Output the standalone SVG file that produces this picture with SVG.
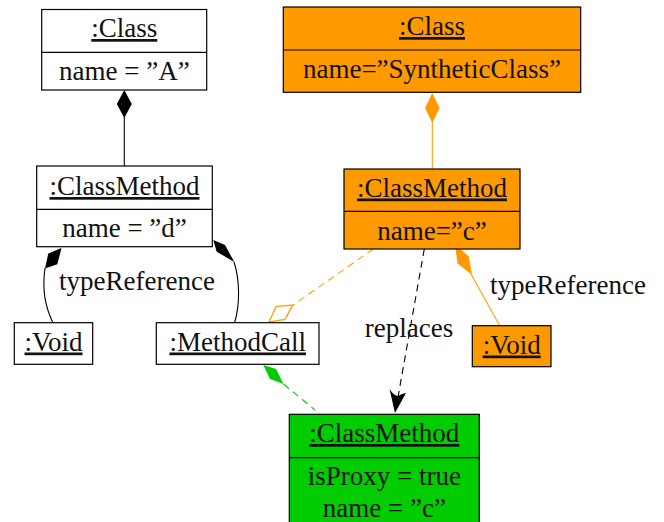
<svg xmlns="http://www.w3.org/2000/svg" width="664" height="522" viewBox="0 0 664 522">
<style>
text{font-family:"Liberation Serif","Times New Roman",serif;font-size:27px;fill:#111;text-anchor:middle}
.u{text-decoration:underline}
.box{stroke:#000;stroke-width:1.2}
.w{fill:#fff}
.o{fill:#ff9900}
.g{fill:#00cc00}
.blk{stroke:#000;stroke-width:1.1;fill:none}
.ol{stroke:#ffa000;stroke-width:1.1;fill:none}
.gl{stroke:#00cc00;stroke-width:1.1;fill:none}
</style>
<rect width="664" height="522" fill="#fff"/>
<g id="connectors">
  <line class="blk" x1="124.3" y1="117" x2="124.3" y2="166"/>
  <polygon points="124.3,90 131.8,104 124.3,118 116.8,104" fill="#000"/>
  <path class="blk" d="M45,268 C42,290 45,306 53,323"/>
  <polygon points="61.5,248 48.3,253.5 45,268.5 57.3,264.3" fill="#000"/>
  <path class="blk" d="M234,262 C240,280 240,305 234.5,323"/>
  <polygon points="213.3,240 225,245 234.3,262 216.7,251.7" fill="#000"/>
  <line class="ol" x1="432.3" y1="122" x2="432.3" y2="169"/>
  <polygon points="432.3,93 439.6,108 432.3,123 425,108" fill="#ff9900"/>
  <line class="ol" x1="373.3" y1="249" x2="292.5" y2="305.5" stroke-dasharray="7,5"/>
  <polygon points="269,322 276,306.7 292.7,305 285,319.3" fill="none" stroke="#ffa000" stroke-width="1.3"/>
  <line class="ol" x1="471" y1="274" x2="499.3" y2="325"/>
  <polygon points="455,244 468.8,256.6 472,275 457.5,263.5" fill="#ff9900"/>
  <line class="gl" x1="283.5" y1="384" x2="315" y2="410" stroke-dasharray="7,5"/>
  <polygon points="263.3,365 276,369 283.5,384 270,379" fill="#00cc00"/>
  <line class="blk" x1="424.3" y1="249" x2="397.5" y2="400" stroke-dasharray="7,5"/>
  <path d="M395,413 L389.5,389 Q394,396 398,396 Q402,393.5 406,393 Z" fill="#000"/>
  <text x="137" y="290">typeReference</text>
  <text x="409" y="337">replaces</text>
  <text x="568" y="294">typeReference</text>
</g>
<g id="classA">
  <rect class="box w" x="41.7" y="9.5" width="165" height="80.5"/>
  <line class="box" x1="41.7" y1="52.3" x2="206.7" y2="52.3"/>
  <text class="u" x="124.3" y="37">:Class</text>
  <text x="124.3" y="80">name = ”A”</text>
</g>
<g id="methodD">
  <rect class="box w" x="36.7" y="166" width="175.6" height="80.7"/>
  <line class="box" x1="36.7" y1="209.3" x2="212.3" y2="209.3"/>
  <text class="u" x="124.5" y="195">:ClassMethod</text>
  <text x="124.5" y="237">name = ”d”</text>
</g>
<g id="classSynthetic">
  <rect class="box o" x="283.3" y="7" width="297.4" height="85.3"/>
  <line class="box" x1="283.3" y1="50" x2="580.7" y2="50"/>
  <text class="u" x="432" y="35">:Class</text>
  <text x="432" y="77.5">name=”SyntheticClass”</text>
</g>
<g id="methodC">
  <rect class="box o" x="344" y="169" width="176" height="80"/>
  <line class="box" x1="344" y1="211.3" x2="520" y2="211.3"/>
  <text class="u" x="432" y="196.5">:ClassMethod</text>
  <text x="432" y="240">name=”c”</text>
</g>
<g id="voidLeft">
  <rect class="box w" x="14.3" y="322.7" width="78.4" height="41.6"/>
  <text class="u" x="53.5" y="350.5">:Void</text>
</g>
<g id="methodCall">
  <rect class="box w" x="156.3" y="322.7" width="162.7" height="41.6"/>
  <text class="u" x="237.7" y="350.5">:MethodCall</text>
</g>
<g id="voidRight">
  <rect class="box o" x="472.3" y="325.7" width="78.7" height="41"/>
  <text class="u" x="511.7" y="353.5">:Void</text>
</g>
<g id="methodProxy">
  <rect class="box g" x="289.3" y="414.3" width="190" height="112"/>
  <line class="box" x1="289.3" y1="457.7" x2="479.3" y2="457.7"/>
  <text class="u" x="384.3" y="442">:ClassMethod</text>
  <text x="384.3" y="485">isProxy = true</text>
  <text x="384.3" y="516.5">name = ”c”</text>
</g>
</svg>
